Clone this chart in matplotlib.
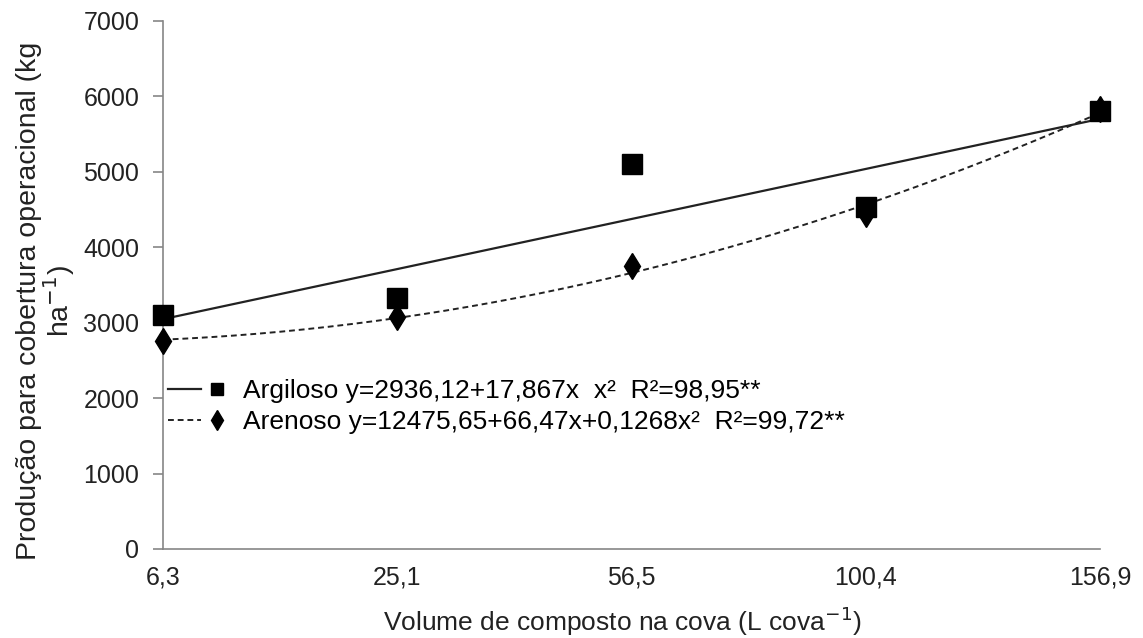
import matplotlib.pyplot as plt
import numpy as np
from matplotlib.lines import Line2D
from matplotlib.legend_handler import HandlerTuple

plt.rcParams['font.family'] = ['Liberation Sans', 'DejaVu Sans']

# data
volumes = ['6,3', '25,1', '56,5', '100,4', '156,9']
argiloso = [3096, 3320, 5105, 4535, 5805]
arenoso = [2752, 3075, 3745, 4433, 5830]
y_ticks = [0, 1000, 2000, 3000, 4000, 5000, 6000, 7000]

fig = plt.figure(figsize=(11.43, 6.38), dpi=100)
ax = fig.add_axes([0.1426, 0.1395, 0.9624 - 0.1426, 0.9676 - 0.1395])

x = np.arange(len(volumes))

# trend lines fitted over category positions (as the spreadsheet did)
lin = np.polyfit(x, argiloso, 1)
quad = np.polyfit(x, arenoso, 2)
xs = np.linspace(0, len(volumes) - 1, 200)
ax.plot(xs, np.polyval(lin, xs), color='#222222', lw=1.6, zorder=2)
ax.plot(xs, np.polyval(quad, xs), color='#222222', lw=1.4,
        dashes=(3, 2), zorder=2)

ax.plot(x, argiloso, 's', color='black', ms=14, zorder=3, clip_on=False)
ax.plot(x, arenoso, 'd', color='black', ms=13, zorder=4, clip_on=False)

ax.set_xlim(0, len(volumes) - 1)
ax.set_ylim(0, 7000)
ax.set_xticks(x)
ax.set_xticklabels(volumes)
ax.set_yticks(y_ticks)

for s in ['top', 'right']:
    ax.spines[s].set_visible(False)
for s in ['left', 'bottom']:
    ax.spines[s].set_color('#868686')
    ax.spines[s].set_linewidth(1.2)

ax.tick_params(axis='y', length=7, width=1.2, color='#868686',
               labelsize=18, labelcolor='#222222', pad=10)
ax.tick_params(axis='x', length=0, labelsize=18, labelcolor='#222222', pad=12)

ax.set_xlabel('Volume de composto na cova (L cova$^{-1}$)', fontsize=19,
              color='#222222')
ax.xaxis.set_label_coords(0.49, -0.105)
ax.set_ylabel('Produção para cobertura operacional (kg\nha$^{-1}$)',
              fontsize=20.5, color='#222222', linespacing=0.95)
ax.yaxis.set_label_coords(-0.092, 0.47)

h_arg = (Line2D([], [], color='#222222', lw=1.6),
         Line2D([], [], marker='s', color='black', ls='none', ms=9))
h_are = (Line2D([], [], color='#222222', lw=1.4, dashes=(3, 2)),
         Line2D([], [], marker='d', color='black', ls='none', ms=10))
ax.legend([h_arg, h_are],
          ['Argiloso y=2936,12+17,867x  x²  R²=98,95**',
           'Arenoso y=12475,65+66,47x+0,1268x²  R²=99,72**'],
          handler_map={tuple: HandlerTuple(ndivide=None, pad=0)},
          loc='upper left', bbox_to_anchor=(0.005, 0.321), frameon=False,
          fontsize=19, handlelength=2.5, handletextpad=0.35,
          labelspacing=0.25, borderaxespad=0, borderpad=0)

fig.savefig('out.png', dpi=100)
